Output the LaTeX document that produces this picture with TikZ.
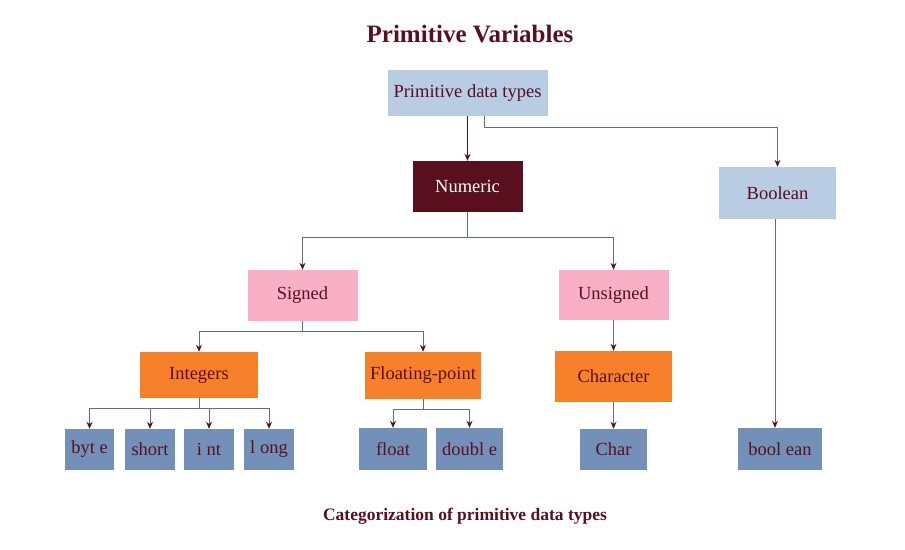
\documentclass[tikz,border=0pt]{standalone}
\usepackage{fontspec}
\setmainfont{Liberation Serif}
\usetikzlibrary{arrows.meta}
\definecolor{maroon}{HTML}{5A0F1E}
\definecolor{paleblue}{HTML}{B8CCE4}
\definecolor{pinkbox}{HTML}{F9AFC6}
\definecolor{orangebox}{HTML}{F7812B}
\definecolor{steelbox}{HTML}{7391B8}
\definecolor{linkgray}{HTML}{5C6E8C}
\tikzset{
  box/.style={rectangle, inner sep=0pt, text=maroon, font=\fontsize{18.5}{21}\selectfont},
  topbox/.style={box, fill=paleblue, minimum width=160pt, minimum height=46pt},
  numbox/.style={box, fill=maroon, text=white, minimum width=110pt, minimum height=51pt},
  boolbox/.style={box, fill=paleblue, minimum width=117pt, minimum height=52pt},
  signbox/.style={box, fill=pinkbox, minimum width=110pt, minimum height=51pt},
  kindbox/.style={box, fill=orangebox, minimum width=117pt, minimum height=47pt},
  leafbox/.style={box, fill=steelbox, minimum width=50pt, minimum height=41pt},
  link/.style={draw=linkgray, line width=1pt, -{Stealth[length=7pt,width=6pt,color=maroon]}}
}
\begin{document}
\begin{tikzpicture}[x=1pt,y=-1pt]
\useasboundingbox (0,0) rectangle (905,549);
\node[text=maroon, font=\fontsize{25}{28}\selectfont\bfseries] (title) at (470,34) {Primitive Variables};
\node[topbox] (pdt) at (467.5,93) {Primitive data types};
\node[numbox] (numeric) at (467.5,186.5) {Numeric};
\node[boolbox] (boolean) at (777.5,193) {Boolean};
\node[signbox] (signed) at (302.5,295.5) {Signed};
\node[signbox, minimum height=50pt] (unsigned) at (613.5,295) {Unsigned};
\node[kindbox, minimum width=118pt, minimum height=46pt] (integers) at (199,375) {Integers};
\node[kindbox, minimum width=116pt] (floating) at (423,375.5) {Floating-point};
\node[kindbox, minimum height=51pt] (character) at (613.5,376.5) {Character};
\node[leafbox, minimum width=49pt] (byte) at (89.5,449.5) {byt e};
\node[leafbox] (short) at (150,449.5) {short};
\node[leafbox] (int) at (209,449.5) {i nt};
\node[leafbox] (long) at (269,449.5) {l ong};
\node[leafbox, minimum width=68pt, minimum height=42pt] (float) at (393,449) {float};
\node[leafbox, minimum width=67pt, minimum height=42pt] (double) at (469.5,449) {doubl e};
\node[leafbox, minimum width=67pt] (char) at (613.5,449.5) {Char};
\node[leafbox, minimum width=84pt, minimum height=42pt] (bool) at (780,449) {bool ean};
\node[text=maroon, font=\fontsize{17.5}{20}\selectfont\bfseries] (caption) at (465,516) {Categorization of primitive data types};
% connectors
\draw[link, draw=maroon] (pdt.south) -- (numeric.north);
\draw[link] ([xshift=17pt]pdt.south) -- ++(0,11) -| (boolean.north);
\draw[link] (numeric.south) -- ++(0,25) -| (signed.north);
\draw[link] (numeric.south) -- ++(0,25) -| (unsigned.north);
\draw[link] (signed.south) -- ++(0,10) -| (integers.north);
\draw[link] (signed.south) -- ++(0,10) -| (floating.north);
\draw[link] (unsigned.south) -- (character.north);
\draw[link] (integers.south) -- ++(0,10) -| (byte.north);
\draw[link] (integers.south) -- ++(0,10) -| (short.north);
\draw[link] (integers.south) -- ++(0,10) -| (int.north);
\draw[link] (integers.south) -- ++(0,10) -| (long.north);
\draw[link] (floating.south) -- ++(0,10) -| (float.north);
\draw[link] (floating.south) -- ++(0,10) -| (double.north);
\draw[link] (character.south) -- (char.north);
\draw[link] ([xshift=-2.5pt]boolean.south) -- ([xshift=-2.5pt]boolean.south |- bool.north);
\end{tikzpicture}
\end{document}
